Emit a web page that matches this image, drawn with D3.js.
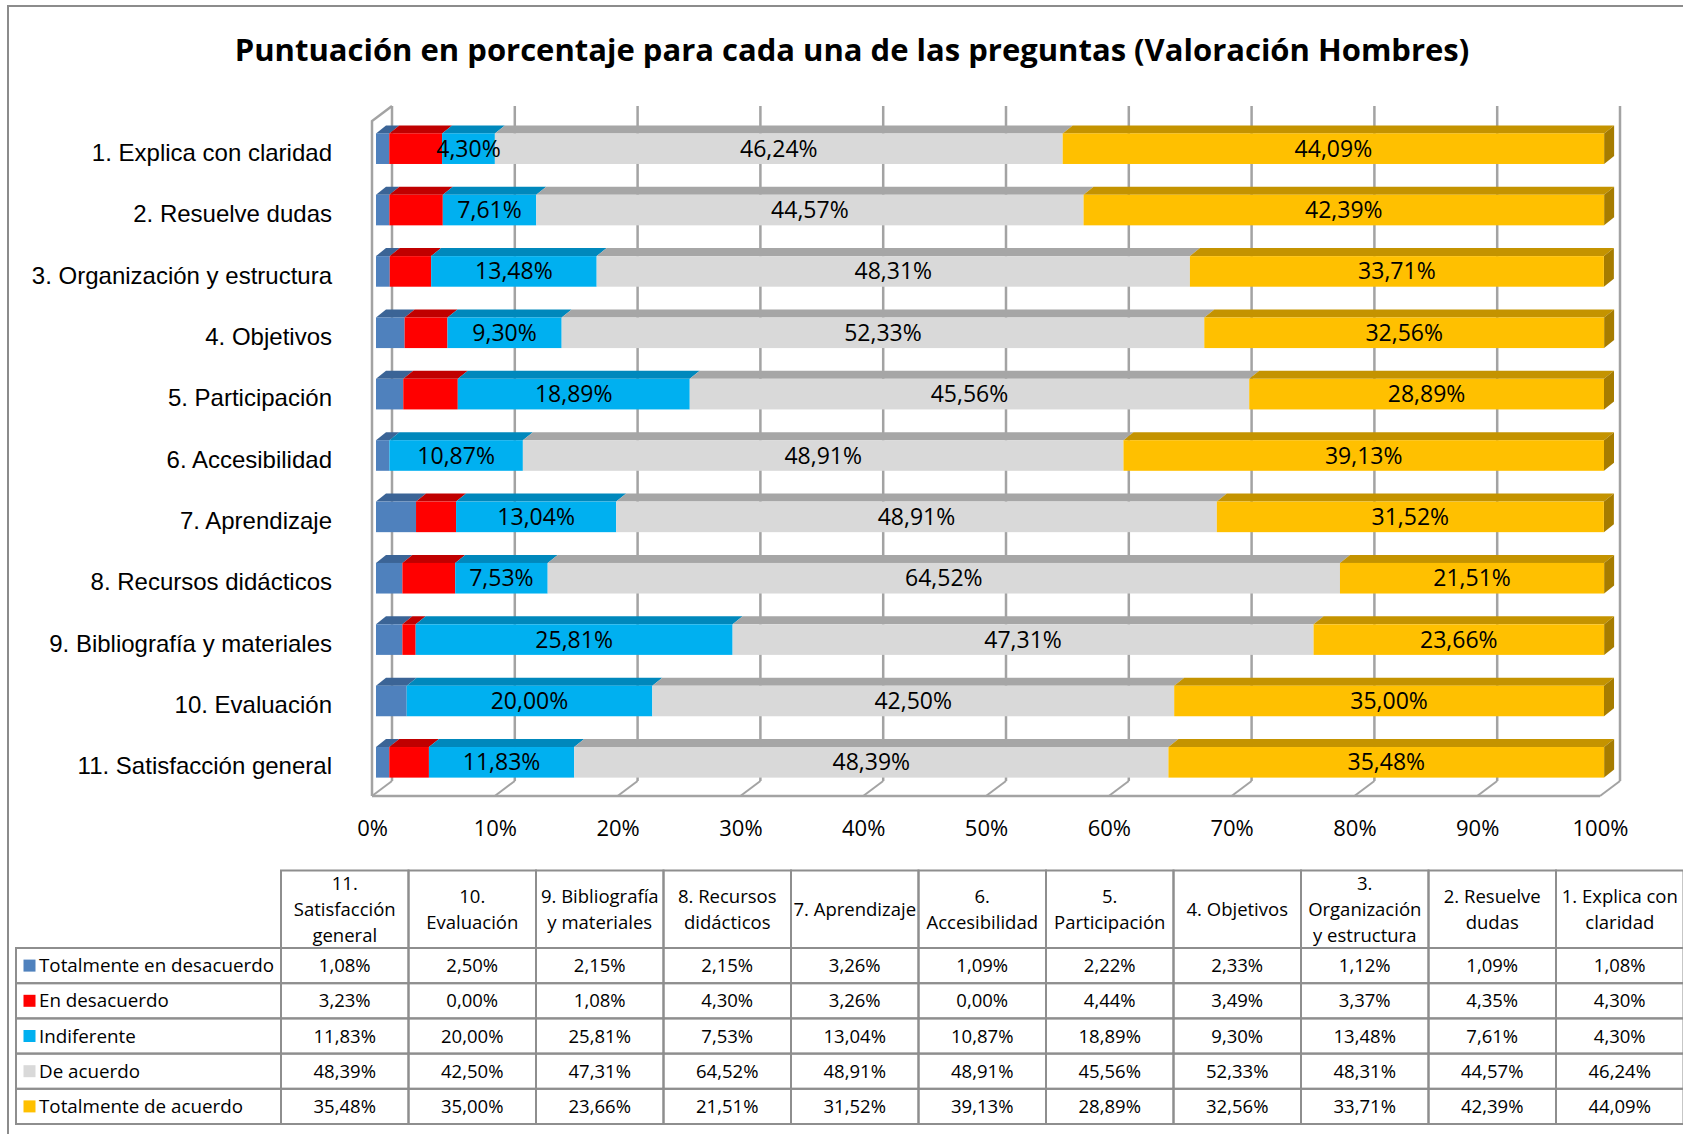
<!DOCTYPE html>
<html>
<head>
<meta charset="utf-8">
<script src="https://cdn.jsdelivr.net/npm/d3@7"></script>
<style>
  body { margin: 0; background: #fff; }
  svg { display: block; }
</style>
</head>
<body>
<div id="chart"></div>
<script>
// ---- data ----
const categories = [
  "1. Explica con claridad", "2. Resuelve dudas", "3. Organización y estructura",
  "4. Objetivos", "5. Participación", "6. Accesibilidad", "7. Aprendizaje",
  "8. Recursos didácticos", "9. Bibliografía y materiales", "10. Evaluación",
  "11. Satisfacción general"
];
const seriesNames = ["Totalmente en desacuerdo", "En desacuerdo", "Indiferente", "De acuerdo", "Totalmente de acuerdo"];

const totalmenteDesacuerdo = [1.08, 1.09, 1.12, 2.33, 2.22, 1.09, 3.26, 2.15, 2.15, 2.50, 1.08];
const enDesacuerdo         = [4.30, 4.35, 3.37, 3.49, 4.44, 0.00, 3.26, 4.30, 1.08, 0.00, 3.23];
const indiferente          = [4.30, 7.61, 13.48, 9.30, 18.89, 10.87, 13.04, 7.53, 25.81, 20.00, 11.83];
const deAcuerdo            = [46.24, 44.57, 48.31, 52.33, 45.56, 48.91, 48.91, 64.52, 47.31, 42.50, 48.39];
const totalmenteAcuerdo    = [44.09, 42.39, 33.71, 32.56, 28.89, 39.13, 31.52, 21.51, 23.66, 35.00, 35.48];

const xTicks = [0, 10, 20, 30, 40, 50, 60, 70, 80, 90, 100];

// table header text, table columns run from 11 down to 1
const tableHeaders = [
  "11.\nSatisfacción\ngeneral", "10.\nEvaluación", "9. Bibliografía\ny materiales",
  "8. Recursos\ndidácticos", "7. Aprendizaje", "6.\nAccesibilidad", "5.\nParticipación",
  "4. Objetivos", "3.\nOrganización\ny estructura", "2. Resuelve\ndudas", "1. Explica con\nclaridad"
];

const title = "Puntuación en porcentaje para cada una de las preguntas (Valoración Hombres)";

// front, top, side colours per series
const colors = [
  { front: "#4F81BD", top: "#3B6496", side: "#2F5282" },
  { front: "#FF0000", top: "#C00000", side: "#A00000" },
  { front: "#00B0F0", top: "#0088BC", side: "#00749F" },
  { front: "#D9D9D9", top: "#A6A6A6", side: "#9A9A9A" },
  { front: "#FFC000", top: "#C49300", side: "#A67C00" }
];

const seriesValues = [totalmenteDesacuerdo, enDesacuerdo, indiferente, deAcuerdo, totalmenteAcuerdo];
const labelled = [false, false, true, true, true];

const fmt = v => d3.format(".2f")(v).replace(".", ",") + "%";

// ---- layout ----
const W = 1683, H = 1134;

const svg = d3.select("#chart")
  .append("svg")
  .attr("width", W)
  .attr("height", H);

// outer frame (cut off at right and bottom as in the original)
svg.append("rect")
  .attr("x", 8).attr("y", 6)
  .attr("width", W + 20).attr("height", H + 20)
  .attr("fill", "#fff")
  .attr("stroke", "#8C8C8C")
  .attr("stroke-width", 2);

svg.append("text")
  .attr("x", 852)
  .attr("y", 61)
  .attr("text-anchor", "middle")
  .style("font-family", "'Open Sans', sans-serif")
  .style("font-weight", "bold")
  .style("font-size", "31px")
  .text(title);

// 3D plot geometry
const plotTop = 121, plotBottom = 796;
const wall = { dx: 20, dy: -15 };
const x = d3.scaleLinear().domain([0, 100]).range([372, 1600]);
const y = d3.scaleBand().domain(categories).range([plotTop, plotBottom]);

const gridColor = "#A3A3A3";
const grid = svg.append("g").attr("stroke", gridColor).attr("fill", "none");

// back wall gridlines
grid.selectAll(".vgrid")
  .data(xTicks)
  .join("line")
  .attr("x1", d => x(d) + wall.dx).attr("x2", d => x(d) + wall.dx)
  .attr("y1", plotTop + wall.dy).attr("y2", plotBottom + wall.dy)
  .attr("stroke-width", 2.5);

// floor lines
grid.selectAll(".fgrid")
  .data(xTicks)
  .join("line")
  .attr("x1", d => x(d)).attr("y1", plotBottom)
  .attr("x2", d => x(d) + wall.dx).attr("y2", plotBottom + wall.dy)
  .attr("stroke-width", 2);

grid.append("line")
  .attr("x1", x(0)).attr("x2", x(100))
  .attr("y1", plotBottom).attr("y2", plotBottom)
  .attr("stroke-width", 2.5);

// left wall
grid.append("path")
  .attr("d", `M${x(0)},${plotBottom}V${plotTop}L${x(0) + wall.dx},${plotTop + wall.dy}`)
  .attr("stroke-width", 2.5);

// bars
const barShift = { dx: 4, dy: -3 };
const barDepth = { dx: 10, dy: -8 };
const barH = 30.6;
const bx = v => x(v) + barShift.dx;
const rowMid = c => y(c) + y.bandwidth() / 2 + barShift.dy;

const rows = categories.map((c, i) => {
  let acc = 0;
  return seriesValues.map((vals, s) => {
    const seg = { cat: c, s, v: vals[i], x0: acc, x1: acc + vals[i] };
    acc += vals[i];
    return seg;
  });
});

const bars = svg.append("g");
rows.forEach(segs => {
  const g = bars.append("g");
  segs.forEach(d => {
    if (d.v <= 0) return;
    const yt = rowMid(d.cat) - barH / 2, yb = yt + barH;
    const x0 = bx(d.x0), x1 = bx(d.x1);
    g.append("path")
      .attr("d", `M${x0},${yt}L${x1},${yt}L${x1 + barDepth.dx},${yt + barDepth.dy}L${x0 + barDepth.dx},${yt + barDepth.dy}Z`)
      .attr("fill", colors[d.s].top);
    if (d.s === segs.length - 1) {
      g.append("path")
        .attr("d", `M${x1},${yt}L${x1 + barDepth.dx},${yt + barDepth.dy}L${x1 + barDepth.dx},${yb + barDepth.dy}L${x1},${yb}Z`)
        .attr("fill", colors[d.s].side);
    }
    g.append("rect")
      .attr("x", x0).attr("y", yt)
      .attr("width", x1 - x0).attr("height", barH)
      .attr("fill", colors[d.s].front);
  });
});

// data labels
svg.append("g")
  .selectAll("text")
  .data(rows.flat().filter(d => labelled[d.s]))
  .join("text")
  .attr("x", d => bx((d.x0 + d.x1) / 2))
  .attr("y", d => rowMid(d.cat) + 8)
  .attr("text-anchor", "middle")
  .style("font-family", "'Open Sans', sans-serif")
  .style("font-size", "23px")
  .attr("fill", "#000")
  .text(d => fmt(d.v));

// x axis
const xAxis = svg.append("g")
  .attr("transform", `translate(0,836)`)
  .call(d3.axisBottom(x).tickValues(xTicks).tickSize(0).tickFormat(d => d + "%"));
xAxis.select(".domain").remove();
xAxis.selectAll("text")
  .attr("y", 0).attr("dy", 0)
  .attr("fill", "#000")
  .style("font-family", "'Open Sans', sans-serif")
  .style("font-size", "22px");

// y axis
const yAxis = svg.append("g")
  .attr("transform", `translate(332,0)`)
  .call(d3.axisLeft(y).tickSize(0).tickPadding(0));
yAxis.select(".domain").remove();
yAxis.selectAll("text")
  .attr("dy", "0.38em")
  .attr("fill", "#000")
  .style("font-family", "'Liberation Sans', Arial, sans-serif")
  .style("font-size", "24px");

// data table
const tblLeft = 16, colLeft = 281, colW = 127.5;
const hdrTop = 870.5, hdrBot = 948, rowH = 35.2;
const tableCats = categories.slice().reverse();
const tableColor = "#8E8E8E";

const table = svg.append("g");

table.selectAll(".hdr")
  .data(tableHeaders)
  .join("rect")
  .attr("x", (d, i) => colLeft + i * colW).attr("y", hdrTop)
  .attr("width", colW).attr("height", hdrBot - hdrTop)
  .attr("fill", "none").attr("stroke", tableColor).attr("stroke-width", 2);

const hdrText = table.selectAll(".hdrText")
  .data(tableHeaders)
  .join("text")
  .attr("text-anchor", "middle")
  .style("font-family", "'Open Sans', sans-serif")
  .style("font-size", "18.5px")
  .attr("fill", "#000");
hdrText.each(function (d, i) {
  const lines = d.split("\n");
  const cy = (hdrTop + hdrBot) / 2;
  const lh = 25.8;
  d3.select(this).selectAll("tspan")
    .data(lines)
    .join("tspan")
    .attr("x", colLeft + i * colW + colW / 2)
    .attr("y", (l, j) => cy + (j - (lines.length - 1) / 2) * lh + 6.5)
    .text(l => l);
});

seriesNames.forEach((name, s) => {
  const top = hdrBot + s * rowH;
  table.append("rect")
    .attr("x", tblLeft).attr("y", top)
    .attr("width", colLeft - tblLeft).attr("height", rowH)
    .attr("fill", "none").attr("stroke", tableColor).attr("stroke-width", 2);
  table.append("rect")
    .attr("x", 23.5).attr("y", top + rowH / 2 - 6)
    .attr("width", 12).attr("height", 12)
    .attr("fill", colors[s].front);
  table.append("text")
    .attr("x", 39).attr("y", top + rowH / 2 + 6.5)
    .style("font-family", "'Open Sans', sans-serif")
    .style("font-size", "18.8px")
    .attr("fill", "#000")
    .text(name);

  tableCats.forEach((c, i) => {
    const v = seriesValues[s][categories.indexOf(c)];
    table.append("rect")
      .attr("x", colLeft + i * colW).attr("y", top)
      .attr("width", colW).attr("height", rowH)
      .attr("fill", "none").attr("stroke", tableColor).attr("stroke-width", 2);
    table.append("text")
      .attr("x", colLeft + i * colW + colW / 2).attr("y", top + rowH / 2 + 6.5)
      .attr("text-anchor", "middle")
      .style("font-family", "'Open Sans', sans-serif")
      .style("font-size", "18.5px")
      .attr("fill", "#000")
      .text(fmt(v));
  });
});
</script>
</body>
</html>
